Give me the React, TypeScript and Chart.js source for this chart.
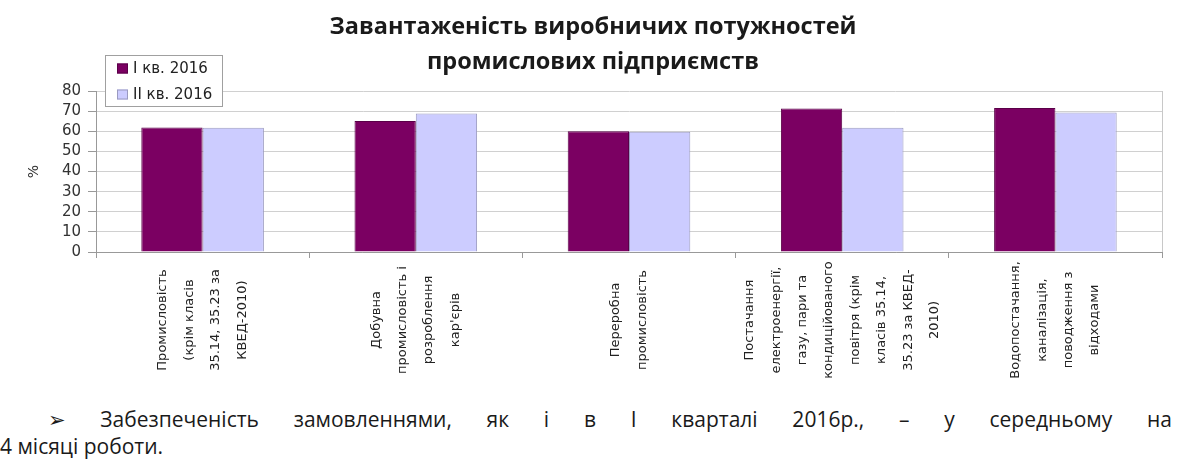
import React, { useEffect, useRef } from "react";
import { Chart, registerables } from "chart.js";

Chart.register(...registerables);

const TITLE_LINES = ["Завантаженість виробничих потужностей", "промислових підприємств"];
const CATEGORIES: string[][] = [
  ["Промисловість", "(крім класів", "35.14, 35.23 за", "КВЕД-2010)"],
  ["Добувна", "промисловість і", "розроблення", "кар'єрів"],
  ["Переробна", "промисловість"],
  ["Постачання", "електроенергії,", "газу, пари та", "кондиційованого", "повітря (крім", "класів 35.14,", "35.23 за КВЕД-", "2010)"],
  ["Водопостачання,", "каналізація,", "поводження з", "відходами"],
];
const SERIES_NAMES = ["I кв. 2016", "II кв. 2016"];
const Q1_VALUES = [61.9, 65.1, 60.0, 71.3, 71.6];
const Q2_VALUES = [61.7, 68.8, 59.8, 61.7, 69.3];
const Y_TICKS = [0, 10, 20, 30, 40, 50, 60, 70, 80];
const Y_TITLE = "%";
const NOTE_LINE1 = "➢ Забезпеченість замовленнями, як і в І кварталі 2016р., – у середньому на";
const NOTE_LINE2 = "4 місяці роботи.";

const DARK = "#7b0062";
const LIGHT = "#ccccff";
const FONT = "'DejaVu Sans', sans-serif";

const decorPlugin = {
  id: "decor",
  afterDraw(chart: any) {
    const { ctx, chartArea, scales } = chart;
    ctx.save();
    // right border of plot area
    ctx.strokeStyle = "#c8c8c8";
    ctx.lineWidth = 1;
    ctx.beginPath();
    ctx.moveTo(Math.round(chartArea.right) + 0.5, chartArea.top);
    ctx.lineTo(Math.round(chartArea.right) + 0.5, chartArea.bottom);
    ctx.stroke();

    // title
    ctx.fillStyle = "#1a1a1a";
    ctx.font = "bold 23.5px 'Open Sans', sans-serif";
    ctx.textAlign = "center";
    ctx.textBaseline = "middle";
    ctx.fillText(TITLE_LINES[0], 593, 27);
    ctx.fillText(TITLE_LINES[1], 593, 62);

    // category labels (rotated, centered lines)
    const xs = scales.x;
    ctx.font = `13px ${FONT}`;
    ctx.fillStyle = "#222";
    CATEGORIES.forEach((lines, i) => {
      const cx = xs.getPixelForValue(i);
      const n = lines.length;
      lines.forEach((line, j) => {
        const dx = (j - (n - 1) / 2) * 26.4;
        ctx.save();
        ctx.translate(cx + dx, 320);
        ctx.rotate(-Math.PI / 2);
        ctx.textAlign = "center";
        ctx.textBaseline = "middle";
        ctx.fillText(line, 0, 0);
        ctx.restore();
      });
    });

    // legend box
    ctx.fillStyle = "#ffffff";
    ctx.fillRect(105, 55, 118, 52);
    ctx.strokeStyle = "#a0a0a0";
    ctx.strokeRect(105.5, 55.5, 117, 51);
    chart.data.datasets.forEach((ds: any, k: number) => {
      const yMid = 68.5 + k * 26;
      ctx.fillStyle = ds.backgroundColor;
      ctx.fillRect(117, yMid - 5, 11, 10);
      ctx.strokeStyle = ds.borderColor;
      ctx.strokeRect(117.5, yMid - 4.5, 10, 9);
      ctx.fillStyle = "#222";
      ctx.font = `15px ${FONT}`;
      ctx.textAlign = "left";
      ctx.textBaseline = "middle";
      ctx.fillText(ds.label, 133, yMid + 1);
    });
    ctx.restore();
  },
};

export default function App() {
  const ref = useRef<HTMLCanvasElement | null>(null);
  useEffect(() => {
    if (!ref.current) return;
    const chart = new Chart(ref.current, {
      type: "bar",
      data: {
        labels: CATEGORIES.map((c) => c.join(" ")),
        datasets: [
          {
            label: SERIES_NAMES[0],
            data: Q1_VALUES,
            backgroundColor: DARK,
            borderColor: "#5a0048",
            borderWidth: 1,
            categoryPercentage: 0.575,
            barPercentage: 1,
          },
          {
            label: SERIES_NAMES[1],
            data: Q2_VALUES,
            backgroundColor: LIGHT,
            borderColor: "#9a9ac0",
            borderWidth: 1,
            categoryPercentage: 0.575,
            barPercentage: 1,
          },
        ],
      },
      options: {
        responsive: false,
        animation: false,
        layout: { padding: { left: 20, right: 34, top: 91, bottom: 0 } },
        plugins: {
          legend: { display: false },
          title: { display: false },
          tooltip: { enabled: false },
        },
        scales: {
          x: {
            offset: true,
            ticks: { display: false },
            grid: {
              offset: true,
              drawOnChartArea: false,
              drawTicks: true,
              tickLength: 6,
              tickColor: "#999",
            },
            border: { color: "#999" },
            afterFit: (s: any) => {
              s.height = 143;
            },
          },
          y: {
            min: 0,
            max: 80,
            afterBuildTicks: (s: any) => {
              s.ticks = Y_TICKS.map((v) => ({ value: v }));
            },
            ticks: {
              color: "#333",
              font: { family: FONT, size: 15 },
              padding: 7,
              autoSkip: false,
            },
            grid: { color: "#d0d0d0", tickColor: "#999", tickLength: 8 },
            border: { color: "#999" },
            title: {
              display: true,
              text: Y_TITLE,
              color: "#333",
              font: { family: FONT, size: 14 },
              padding: { top: 6, bottom: 0 },
            },
            afterFit: (s: any) => {
              s.width = 76;
            },
          },
        },
      },
      plugins: [decorPlugin],
    });
    return () => chart.destroy();
  }, []);

  const noteFont: React.CSSProperties = {
    fontFamily: "'Open Sans', 'DejaVu Sans', sans-serif",
    fontSize: 21,
    color: "#1a1a1a",
    lineHeight: "27px",
    whiteSpace: "nowrap",
  };

  return (
    <div style={{ width: 1196, height: 465, background: "#fff", position: "relative", overflow: "hidden" }}>
      <style>{`body{margin:0}`}</style>
      <canvas ref={ref} width={1196} height={395} style={{ display: "block" }} />
      <div
        style={{
          ...noteFont,
          position: "absolute",
          left: 48,
          top: 406,
          width: 1124,
          textAlign: "justify",
          textAlignLast: "justify",
          whiteSpace: "normal",
        }}
      >
        {NOTE_LINE1}
      </div>
      <div style={{ ...noteFont, position: "absolute", left: 0, top: 433 }}>{NOTE_LINE2}</div>
    </div>
  );
}
